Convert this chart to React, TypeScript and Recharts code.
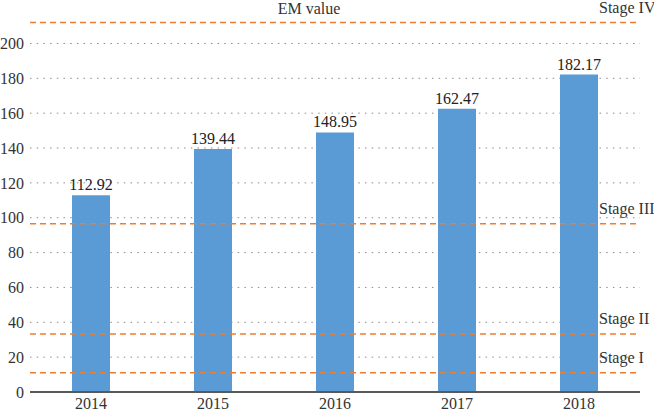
import React from 'react';
import { BarChart, Bar, XAxis, YAxis, CartesianGrid, ReferenceLine, LabelList } from 'recharts';

const years = ['2014', '2015', '2016', '2017', '2018'];
const emValues = [112.92, 139.44, 148.95, 162.47, 182.17];
const yTicks = [0, 20, 40, 60, 80, 100, 120, 140, 160, 180, 200];
const yMax = 220;
const stageNames = ['Stage I', 'Stage II', 'Stage III', 'Stage IV'];
const stageValues = [11, 33.3, 96.5, 212];

const data = years.map((year, i) => ({ year, value: emValues[i] }));

const FONT = '"Liberation Serif", "Times New Roman", serif';

const StageLabel = ({ viewBox, text, title }: any) => {
  if (!viewBox) return null;
  const { x, y, width } = viewBox;
  return (
    <g>
      {title && (
        <text x={309} y={y - 9} textAnchor="middle" fontFamily={FONT} fontSize={16} fill="#333">
          {title}
        </text>
      )}
      <text x={x + width - 41} y={y - 10} textAnchor="start" fontFamily={FONT} fontSize={16} fill="#333">
        {text}
      </text>
    </g>
  );
};

// only the tick rows, no line along the top edge of the plot
const gridRows = ({ offset }: any) => {
  if (!offset) return [];
  return yTicks.filter((t) => t > 0).map((t) => offset.top + offset.height * (1 - t / yMax));
};

export default function App() {
  return (
    <div style={{ position: 'absolute', left: 0, top: 0, background: '#fff' }}>
      <BarChart
        width={654}
        height={411}
        data={data}
        margin={{ top: 8.6, right: 14, left: 0, bottom: 0 }}
        barCategoryGap={0}
      >
        <CartesianGrid
          vertical={false}
          stroke="#8c8c8c"
          strokeDasharray="1.5 5.2"
          horizontalCoordinatesGenerator={gridRows}
        />
        <XAxis
          dataKey="year"
          axisLine={{ stroke: '#595959', strokeWidth: 2 }}
          tickLine={false}
          height={19}
          tickSize={4}
          tickMargin={2}
          tick={{ fill: '#333', fontSize: 16, fontFamily: FONT }}
        />
        <YAxis
          domain={[0, yMax]}
          ticks={yTicks}
          width={30}
          axisLine={false}
          tickLine={false}
          tickSize={4}
          tickMargin={2}
          interval={0}
          tick={{ fill: '#333', fontSize: 16, fontFamily: FONT }}
        />
        <Bar dataKey="value" fill="#5b9bd5" barSize={38} isAnimationActive={false}>
          <LabelList
            dataKey="value"
            position="top"
            offset={5}
            formatter={(v: any) => Number(v).toFixed(2)}
            style={{ fill: '#222', fontSize: 16, fontFamily: FONT }}
          />
        </Bar>
        {stageValues.map((v, i) => (
          <ReferenceLine
            key={stageNames[i]}
            y={v}
            stroke="#ed7d31"
            strokeWidth={1.5}
            strokeDasharray="6 4"
            ifOverflow="extendDomain"
            label={<StageLabel text={stageNames[i]} title={i === 3 ? 'EM value' : undefined} />}
          />
        ))}
      </BarChart>
    </div>
  );
}
